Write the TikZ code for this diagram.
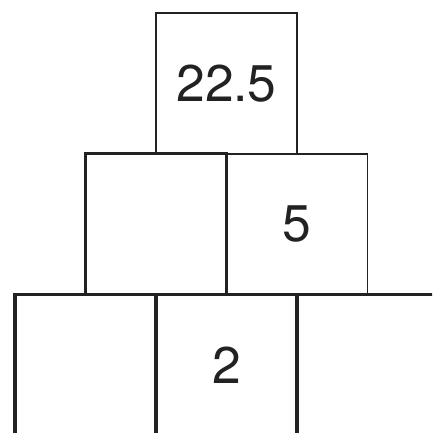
\documentclass[tikz,border=0pt]{standalone}
\usepackage{fontspec}
\setmainfont{TeX Gyre Heros}
\usetikzlibrary{positioning}
\definecolor{boxline}{HTML}{222222}
\tikzset{
  cell/.style={draw=boxline, text=boxline, minimum size=4.23cm, outer sep=0pt,
               inner sep=0pt, font=\fontsize{44}{44}\selectfont},
  thincell/.style={cell, line width=1.3pt},
  thickcell/.style={cell, line width=2.8pt},
}

\begin{document}
\begin{tikzpicture}
  \useasboundingbox (0,0) rectangle (12.96,-12.99);
  \clip (0,0) rectangle (12.96,-12.99);
  % bottom row
  \node[thickcell] (bmid) at (6.795,-10.96) {2};
  \node[thickcell, left=0pt of bmid] (bleft) {};
  \node[thickcell, right=0pt of bmid] (bright) {};
  % middle row
  \node[thickcell, above=0pt of bmid.north west] (mleft) {};
  \node[thincell, right=0pt of mleft] (mright) {5};
  % top
  \node[thincell, above=0pt of mleft.north east] (top) {22.5};
\end{tikzpicture}
\end{document}
